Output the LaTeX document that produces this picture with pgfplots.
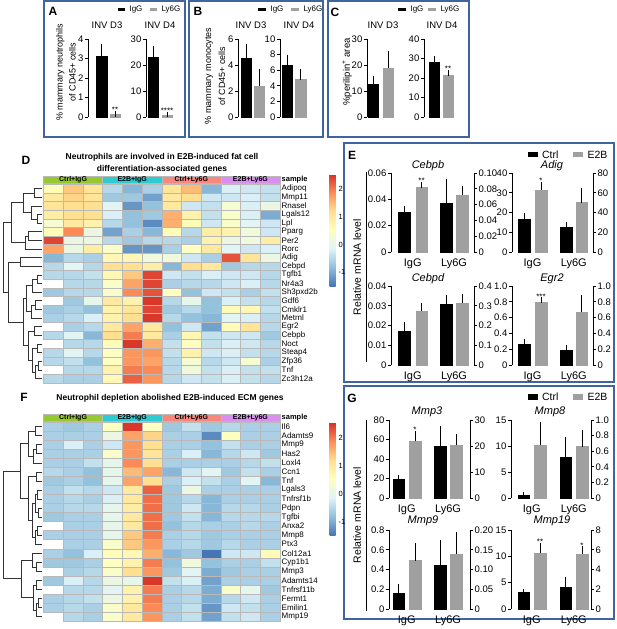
\documentclass[border=0pt]{standalone}
\usepackage{fontspec}
\setmainfont{Liberation Sans}
\usepackage{pgfplots}
\pgfplotsset{compat=1.18}

\definecolor{boxblue}{RGB}{64,100,160}
\definecolor{barg}{RGB}{160,160,160}
\definecolor{gctrl}{RGB}{150,200,50}
\definecolor{ge2b}{RGB}{45,203,210}
\definecolor{gcly}{RGB}{248,135,125}
\definecolor{gely}{RGB}{218,143,240}
\newcommand{\fs}[1]{\fontsize{#1}{#1}\selectfont}

% heatmap cells (one per row height)
\pgfdeclareplotmark{cellD}{\pgfpathrectangle{\pgfpoint{-9.854pt}{-4.314pt}}{\pgfpoint{19.708pt}{8.628pt}}\pgfusepathqfillstroke}
\pgfdeclareplotmark{cellF}{\pgfpathrectangle{\pgfpoint{-9.854pt}{-4.524pt}}{\pgfpoint{19.708pt}{9.048pt}}\pgfusepathqfillstroke}

\pgfplotsset{
  bb/.style={scale only axis, anchor=south west, clip=false,
    axis x line*=bottom, axis y line*=left,
    x axis line style={draw=none}, xtick style={draw=none},
    y axis line style={line width=0.7pt},
    ytick style={line width=0.7pt, black}, tick align=outside, major tick length=3pt,
    ymin=0, xtick=\empty, bar width=10.5, scaled y ticks=false,
    ticklabel style={font=\fs{9.5}}, yticklabel style={inner xsep=1.5pt},
    /pgf/number format/assume math mode=true},
  eg/.style={bb, bar width=11.5, yticklabel style={font=\fs{9.5}}, xticklabel style={font=\fs{11}}},
  hm/.style={scale only axis, anchor=north west, width=236.5pt, xmin=-0.5, xmax=11.5, y dir=reverse,
    axis line style={draw=none}, xtick=\empty, yticklabel pos=right, major tick length=0pt,
    yticklabel style={font=\fs{8}, anchor=west, inner xsep=1.5pt}, clip=false,
    colormap={rdylbu}{rgb255=(69,117,180) rgb255=(145,191,219) rgb255=(224,243,248)
      rgb255=(255,255,191) rgb255=(254,224,144) rgb255=(252,141,89) rgb255=(215,48,39)},
    point meta min=-1.5, point meta max=2.55,
    colorbar, colorbar style={at={(parent axis.north east)}, anchor=north west, xshift=41pt,
      width=6pt, scale only axis, y dir=normal, ytick={-1,0,1,2}, yticklabels={-1,0,1,2},
      axis line style={draw=none}, major tick length=0pt,
      yticklabel style={font=\fs{7.5}, anchor=west, inner xsep=3pt}}},
  hmcell/.style={scatter, only marks, point meta=explicit, line width=0.4pt,
    scatter/use mapped color={draw=gray!55, fill=mapped color}},
  dg/.style={scale only axis, anchor=north west, width=41pt, hide axis, y dir=reverse,
    x dir=reverse, clip=false, xmin=-0.1}
}
\tikzset{st/.style={font=\fs{8}, anchor=south, inner sep=1pt}}

% bar with upward error bar: colour, x, value, error
\newcommand{\eb}[4]{\addplot[ybar, bar shift=0pt, fill=#1, draw=#1,
  error bars/.cd, y dir=plus, y explicit,
  error bar style={line width=0.7pt, black},
  error mark options={line width=0.7pt, black, mark size=2.8pt}]
  coordinates {(#2,#3) +- (0,#4)};}
% dendrogram merge: child heights, merge height, child rows
\newcommand{\dm}[5]{\addplot[black!80, line width=0.5pt] coordinates {(#1,#4) (#3,#4) (#3,#5) (#2,#5)};}

\begin{document}
\begin{tikzpicture}
\useasboundingbox (0pt,0pt) rectangle (617pt,-629pt);

% ---------- boxes
\draw[boxblue, line width=1.2pt] (44pt,-1pt) rectangle (185pt,-137pt);
\draw[boxblue, line width=1.2pt] (189pt,-1pt) rectangle (323pt,-137pt);
\draw[boxblue, line width=1.2pt] (328pt,-1pt) rectangle (469pt,-137pt);
\draw[boxblue, line width=1.2pt] (344pt,-143pt) rectangle (614pt,-382pt);
\draw[boxblue, line width=1.2pt] (344pt,-386pt) rectangle (614pt,-619pt);

% ---------- A
\node[font=\bfseries\fs{12}] at (53pt,-11pt) {A};
\fill (118pt,-7.5pt) rectangle (125pt,-11pt);
\node[anchor=west, font=\fs{8}] at (126pt,-9.3pt) {IgG};
\fill[barg] (150pt,-7.5pt) rectangle (157pt,-11pt);
\node[anchor=west, font=\fs{8}] at (158pt,-9.3pt) {Ly6G};
\node[rotate=90, align=center, font=\fontsize{9}{13}\selectfont] at (66pt,-72pt) {\% mammary neutrophils\\of CD45+ cells};
\node[font=\fs{9.5}] at (107pt,-25pt) {INV D3};
\node[font=\fs{9.5}] at (160pt,-25pt) {INV D4};
\begin{axis}[bb, at={(88pt,-117pt)}, width=34pt, height=78pt, xmin=88, xmax=122,
  ymax=4, ytick={0,1,2,3,4}, yticklabels={0,1,2,3,4}]
\eb{black}{101.5}{3.1}{0.5}
\eb{barg}{115}{0.12}{0.03}
\node[st] at (axis cs:115,0.15) {**};
\end{axis}
\begin{axis}[bb, at={(146pt,-117pt)}, width=30pt, height=78pt, xmin=146, xmax=176,
  ymax=30, ytick={0,10,20,30}, yticklabels={0,10,20,30}]
\eb{black}{153}{22.9}{3.3}
\eb{barg}{167}{0.7}{0.2}
\node[st] at (axis cs:167,0.9) {****};
\end{axis}

% ---------- B
\node[font=\bfseries\fs{12}] at (198pt,-11pt) {B};
\fill (258pt,-7.5pt) rectangle (266pt,-11pt);
\node[anchor=west, font=\fs{8}] at (267pt,-9.3pt) {IgG};
\fill[barg] (291pt,-7.5pt) rectangle (299pt,-11pt);
\node[anchor=west, font=\fs{8}] at (300pt,-9.3pt) {Ly6G};
\node[rotate=90, align=center, font=\fontsize{9}{14}\selectfont] at (215pt,-76pt) {\% mammary monocytes\\of CD45+ cells};
\node[font=\fs{9.5}] at (251pt,-25pt) {INV D3};
\node[font=\fs{9.5}] at (299pt,-25pt) {INV D4};
\begin{axis}[bb, at={(238pt,-117pt)}, width=30pt, height=78pt, xmin=238, xmax=268,
  ymax=6, ytick={0,2,4,6}, yticklabels={0,2,4,6}]
\eb{black}{246}{4.54}{0.84}
\eb{barg}{259}{2.36}{1.14}
\end{axis}
\begin{axis}[bb, at={(280pt,-117pt)}, width=29pt, height=78pt, xmin=280, xmax=309,
  ymax=10, ytick={0,2,4,6,8,10}, yticklabels={0,2,4,6,8,10}]
\eb{black}{287}{6.62}{1.03}
\eb{barg}{300.5}{4.79}{1.06}
\end{axis}

% ---------- C
\node[font=\bfseries\fs{12}] at (335pt,-12pt) {C};
\fill (398pt,-7.5pt) rectangle (406pt,-11pt);
\node[anchor=west, font=\fs{8}] at (407pt,-9.3pt) {IgG};
\fill[barg] (428pt,-7.5pt) rectangle (436pt,-11pt);
\node[anchor=west, font=\fs{8}] at (437pt,-9.3pt) {Ly6G};
\node[rotate=90, font=\fs{9.5}] at (347pt,-72pt) {\%perilipin\textsuperscript{+} area};
\node[font=\fs{9.5}] at (383pt,-25pt) {INV D3};
\node[font=\fs{9.5}] at (442pt,-25pt) {INV D4};
\begin{axis}[bb, at={(367pt,-117pt)}, width=30pt, height=78pt, xmin=367, xmax=397,
  ymax=30, ytick={0,10,20,30}, yticklabels={0,10,20,30}]
\eb{black}{373}{12.8}{1.8}
\eb{barg}{388}{18.8}{5.7}
\end{axis}
\begin{axis}[bb, at={(424pt,-117pt)}, width=32pt, height=78pt, xmin=424, xmax=456,
  ymax=40, ytick={0,10,20,30,40}, yticklabels={0,10,20,30,40}]
\eb{black}{434}{28.2}{1.8}
\eb{barg}{448}{21.2}{1.7}
\node[st] at (axis cs:448,22.9) {**};
\end{axis}

% ---------- D heatmap
\node[font=\bfseries\fs{12}] at (26pt,-160pt) {D};
\node[font=\bfseries\fontsize{8.5}{12}\selectfont, align=center] at (162pt,-163pt)
  {Neutrophils are involved in E2B-induced fat cell\\differentiation-associated genes};
\begin{axis}[hm, at={(43.5pt,-176.5pt)}, height=206.2pt, ymin=-1.4, ymax=22.5,
  ytick={0,...,22},
  yticklabels={Adipoq,Mmp11,Rnasel,Lgals12,Lpl,Pparg,Per2,Rorc,Adig,Cebpd,Tgfb1,Nr4a3,Sh3pxd2b,Gdf6,Cmklr1,Metrnl,Egr2,Cebpb,Noct,Steap4,Zfp36,Tnf,Zc3h12a},
  colorbar style={yshift=2.5pt, height=112pt}]
\addplot[hmcell, mark=cellD]
  table[header=false, row sep=\\, x expr={mod(\coordindex,12)}, y expr={floor(\coordindex/12)}, meta index=0] {
0.6\\ 1.4\\ 1.1\\ -0.5\\ -0.9\\ -0.6\\ 1.1\\ 1.5\\ -0.9\\ -0.2\\ -0.3\\ -0.4\\
1.0\\ 1.3\\ 1.1\\ -0.7\\ -0.7\\ -1.1\\ 1.0\\ 1.2\\ -0.3\\ -0.3\\ -0.2\\ -0.4\\
1.1\\ 1.2\\ 1.2\\ -0.1\\ -1.2\\ -0.8\\ 1.0\\ -0.3\\ -0.4\\ 0.3\\ -0.2\\ 0.1\\
0.9\\ 1.2\\ 1.2\\ -0.2\\ -0.8\\ -0.7\\ 1.6\\ 0.8\\ -0.4\\ 0.4\\ -0.2\\ -1.0\\
0.3\\ 1.0\\ 0.8\\ -0.5\\ -0.8\\ -1.3\\ 1.6\\ 0.6\\ -0.3\\ 0.4\\ -0.1\\ -0.3\\
0.6\\ 1.9\\ 0.1\\ -1.1\\ -0.6\\ -0.9\\ 0.6\\ -0.5\\ 0.9\\ 0.8\\ 0.2\\ -0.3\\
2.4\\ 0.1\\ 0.1\\ -0.5\\ -0.7\\ -0.5\\ -0.5\\ -0.6\\ 0.8\\ 0.1\\ 0.2\\ 0.9\\
1.7\\ 0.1\\ 0.9\\ 0.4\\ -1.2\\ -1.2\\ -0.6\\ 0.5\\ 1.0\\ -0.1\\ -0.3\\ -0.2\\
-0.9\\ -0.5\\ -0.6\\ 0.7\\ 0.7\\ 0.2\\ 0.2\\ -0.3\\ -0.6\\ 2.3\\ 1.1\\ 0.1\\
-0.5\\ -0.1\\ -0.5\\ 1.2\\ 1.2\\ 0.9\\ -0.9\\ 1.2\\ 1.0\\ -0.7\\ -0.5\\ -0.5\\
-0.4\\ -0.5\\ -0.4\\ 0.7\\ 1.4\\ 2.4\\ -0.3\\ -0.4\\ -0.2\\ -0.3\\ -0.3\\ -0.5\\
-0.5\\ -0.5\\ -0.5\\ 0.4\\ 1.7\\ 2.4\\ -0.6\\ -0.5\\ -0.5\\ -0.3\\ -0.2\\ -0.5\\
-0.4\\ -0.5\\ -0.5\\ 0.4\\ 1.9\\ 2.3\\ 0.5\\ -0.8\\ -0.3\\ -0.4\\ -0.6\\ -0.4\\
-0.7\\ -0.7\\ 0.0\\ 1.0\\ 0.8\\ 2.5\\ -0.5\\ 0.0\\ -0.8\\ -0.2\\ -0.4\\ -0.5\\
-0.7\\ -0.6\\ -0.8\\ 0.8\\ 1.1\\ 2.4\\ -0.7\\ -0.5\\ -0.8\\ 0.6\\ 0.7\\ -0.4\\
-0.5\\ -0.5\\ -0.2\\ 0.8\\ 1.2\\ 2.5\\ -0.5\\ -0.8\\ -0.9\\ -0.1\\ -0.2\\ -0.5\\
-0.6\\ -0.6\\ -0.5\\ 1.0\\ 1.7\\ 1.0\\ -0.8\\ -0.3\\ -1.1\\ 0.6\\ 1.1\\ -0.5\\
-0.5\\ -0.1\\ -0.9\\ 1.2\\ 2.0\\ 1.0\\ -0.6\\ 0.7\\ -0.4\\ -0.3\\ -0.3\\ -0.7\\
-0.5\\ -0.5\\ -0.5\\ 0.6\\ 2.5\\ 1.6\\ -0.4\\ 0.5\\ -0.4\\ -0.2\\ -0.3\\ -0.5\\
-0.5\\ -0.1\\ -0.5\\ 0.5\\ 1.8\\ 1.8\\ -0.4\\ 0.8\\ -0.3\\ -0.2\\ -0.4\\ -0.5\\
-0.5\\ -0.4\\ -0.8\\ 0.5\\ 1.8\\ 1.7\\ -0.5\\ 0.3\\ -0.5\\ -0.3\\ 0.3\\ -0.6\\
-0.5\\ -0.5\\ -0.5\\ 0.8\\ 2.0\\ 1.9\\ -0.5\\ 0.2\\ -0.4\\ -0.2\\ -0.4\\ -0.4\\
-0.5\\ -0.6\\ -0.6\\ 0.7\\ 2.2\\ 1.8\\ -0.5\\ -0.3\\ -0.4\\ -0.2\\ -0.4\\ -0.5\\
};
\filldraw[fill=gctrl, draw=gray!55, line width=0.4pt] (axis cs:-0.5,-1.4) rectangle (axis cs:2.5,-0.6);
\filldraw[fill=ge2b, draw=gray!55, line width=0.4pt] (axis cs:2.5,-1.4) rectangle (axis cs:5.5,-0.6);
\filldraw[fill=gcly, draw=gray!55, line width=0.4pt] (axis cs:5.5,-1.4) rectangle (axis cs:8.5,-0.6);
\filldraw[fill=gely, draw=gray!55, line width=0.4pt] (axis cs:8.5,-1.4) rectangle (axis cs:11.5,-0.6);
\node[font=\bfseries\fs{7}] at (axis cs:1,-1.0) {Ctrl+IgG};
\node[font=\bfseries\fs{7}] at (axis cs:4,-1.0) {E2B+IgG};
\node[font=\bfseries\fs{7}] at (axis cs:7,-1.0) {Ctrl+Ly6G};
\node[font=\bfseries\fs{7}] at (axis cs:10,-1.0) {E2B+Ly6G};
\node[font=\bfseries\fs{7.5}, anchor=west, inner xsep=1.5pt] at (axis cs:11.5,-1.0) {sample};
\end{axis}
\begin{axis}[dg, at={(2pt,-176.5pt)}, height=206.2pt, ymin=-1.4, ymax=22.5, xmax=7.2]
\dm{0}{0}{1.5}{0}{1}
\dm{0}{0}{1.0}{3}{4}
\dm{0}{1.0}{2.0}{2}{3.5}
\dm{1.5}{2.0}{3.5}{0.5}{2.75}
\dm{0}{0}{2.5}{5}{6}
\dm{2.5}{0}{3.0}{5.5}{7}
\dm{3.5}{3.0}{5.5}{1.625}{6.25}
\dm{0}{0}{4.0}{8}{9}
\dm{0}{0}{1.0}{10}{11}
\dm{1.0}{0}{1.8}{10.5}{12}
\dm{0}{0}{1.2}{13}{14}
\dm{1.2}{0}{2.0}{13.5}{15}
\dm{1.8}{2.0}{2.8}{11.25}{14.25}
\dm{0}{0}{1.5}{16}{17}
\dm{0}{0}{1.0}{18}{19}
\dm{0}{0}{0.8}{20}{21}
\dm{0.8}{0}{1.2}{20.5}{22}
\dm{1.0}{1.2}{1.8}{18.5}{21.25}
\dm{1.5}{1.8}{2.5}{16.5}{19.875}
\dm{2.8}{2.5}{3.5}{12.75}{18.1875}
\dm{4.0}{3.5}{6.0}{8.5}{15.46875}
\dm{5.5}{6.0}{7.0}{3.9375}{11.984}
\end{axis}

% ---------- F heatmap
\node[font=\bfseries\fs{12}] at (24pt,-397pt) {F};
\node[font=\bfseries\fs{8.5}] at (170pt,-398pt) {Neutrophil depletion abolished E2B-induced ECM genes};
\begin{axis}[hm, at={(43.5pt,-413.9pt)}, height=207.2pt, ymin=-1.4, ymax=21.5,
  ytick={0,...,21},
  yticklabels={Il6,Adamts9,Mmp9,Has2,Loxl4,Ccn1,Tnf,Lgals3,Tnfrsf1b,Pdpn,Tgfbi,Anxa2,Mmp8,Ptx3,Col12a1,Cyp1b1,Mmp3,Adamts14,Tnfrsf11b,Fermt1,Emilin1,Mmp19},
  colorbar style={yshift=-8.7pt, height=113pt}]
\addplot[hmcell, mark=cellF]
  table[header=false, row sep=\\, x expr={mod(\coordindex,12)}, y expr={floor(\coordindex/12)}, meta index=0] {
-0.6\\ -0.7\\ -0.6\\ 0.5\\ 2.5\\ 0.5\\ -0.7\\ -0.4\\ -0.7\\ -0.5\\ -0.6\\ -0.6\\
-0.6\\ -0.6\\ -0.6\\ 0.1\\ 1.7\\ 1.3\\ -0.6\\ -0.6\\ -1.3\\ 0.5\\ -0.6\\ -0.6\\
-0.6\\ -0.2\\ -0.6\\ -0.3\\ 1.8\\ 1.2\\ -0.6\\ -0.6\\ -0.8\\ -0.4\\ -0.6\\ -0.6\\
-0.6\\ -0.6\\ -0.6\\ 0.4\\ 1.8\\ 1.1\\ -0.6\\ -0.2\\ -0.9\\ -0.5\\ -0.3\\ -0.7\\
-0.6\\ -0.6\\ -0.4\\ 0.0\\ 1.9\\ 1.2\\ -0.6\\ -0.6\\ -0.6\\ -0.6\\ -0.5\\ -0.4\\
-0.5\\ -0.6\\ -0.8\\ 0.0\\ 1.5\\ 1.7\\ -0.9\\ -0.3\\ -0.1\\ -0.7\\ -0.4\\ -0.6\\
-0.7\\ -0.6\\ -0.8\\ 0.0\\ 1.7\\ 1.2\\ -0.6\\ -0.2\\ -0.4\\ -0.6\\ -0.1\\ -0.9\\
-0.6\\ -0.4\\ -0.5\\ -0.3\\ 1.0\\ 2.2\\ -0.7\\ 0.1\\ -0.6\\ -0.6\\ -0.6\\ -0.6\\
-0.6\\ -0.5\\ -0.6\\ -0.2\\ 1.0\\ 2.1\\ -0.7\\ -0.5\\ -0.9\\ -0.6\\ -0.6\\ -0.6\\
-0.6\\ -0.5\\ -0.5\\ 0.0\\ 0.9\\ 2.1\\ -0.7\\ -0.3\\ -0.9\\ -0.5\\ -0.5\\ -0.6\\
-0.6\\ -0.6\\ -0.6\\ 0.0\\ 1.0\\ 2.1\\ -0.7\\ -0.4\\ -0.9\\ -0.5\\ -0.5\\ -0.5\\
-0.7\\ -0.6\\ -0.6\\ 0.0\\ 1.0\\ 2.1\\ -0.8\\ -0.5\\ -0.6\\ -0.6\\ -0.5\\ -0.6\\
-0.6\\ -0.6\\ -0.6\\ 0.0\\ 1.4\\ 2.0\\ -0.6\\ -0.5\\ -0.7\\ -0.6\\ -0.6\\ -0.6\\
-0.6\\ -0.6\\ -0.6\\ 0.4\\ 1.4\\ 1.8\\ -0.6\\ -0.5\\ -0.7\\ -0.5\\ -0.6\\ -0.6\\
-0.6\\ -0.8\\ -0.2\\ 0.6\\ 0.7\\ 1.6\\ -0.9\\ -0.7\\ -1.5\\ -0.3\\ -0.3\\ 0.6\\
-0.7\\ -0.7\\ -0.6\\ 0.5\\ 0.8\\ 2.0\\ -0.8\\ 0.2\\ -0.8\\ -0.6\\ -0.6\\ -0.4\\
-0.7\\ -0.6\\ -0.5\\ 0.4\\ 1.2\\ 1.8\\ -0.7\\ -0.1\\ -1.0\\ -0.7\\ -0.6\\ -0.6\\
-0.9\\ -0.2\\ -0.5\\ 0.1\\ 0.0\\ 2.5\\ -0.4\\ -0.2\\ -1.1\\ -0.6\\ -0.6\\ -0.6\\
-0.7\\ -0.5\\ -0.5\\ -0.1\\ 0.8\\ 2.0\\ -0.6\\ -0.5\\ -1.0\\ 0.4\\ 0.0\\ -0.7\\
-0.6\\ -0.5\\ -0.4\\ 0.1\\ 0.8\\ 2.0\\ -0.6\\ -0.5\\ -1.0\\ -0.5\\ -0.3\\ -0.6\\
-0.6\\ -0.5\\ -0.6\\ 0.4\\ 1.0\\ 1.9\\ -0.6\\ -0.4\\ -1.2\\ -0.3\\ -0.4\\ -0.6\\
-0.6\\ -0.5\\ -0.6\\ 0.4\\ 1.0\\ 1.8\\ -0.6\\ -0.4\\ -1.1\\ -0.4\\ -0.3\\ -0.6\\
};
\filldraw[fill=gctrl, draw=gray!55, line width=0.4pt] (axis cs:-0.5,-1.4) rectangle (axis cs:2.5,-0.6);
\filldraw[fill=ge2b, draw=gray!55, line width=0.4pt] (axis cs:2.5,-1.4) rectangle (axis cs:5.5,-0.6);
\filldraw[fill=gcly, draw=gray!55, line width=0.4pt] (axis cs:5.5,-1.4) rectangle (axis cs:8.5,-0.6);
\filldraw[fill=gely, draw=gray!55, line width=0.4pt] (axis cs:8.5,-1.4) rectangle (axis cs:11.5,-0.6);
\node[font=\bfseries\fs{7}] at (axis cs:1,-1.0) {Ctrl+IgG};
\node[font=\bfseries\fs{7}] at (axis cs:4,-1.0) {E2B+IgG};
\node[font=\bfseries\fs{7}] at (axis cs:7,-1.0) {Ctrl+Ly6G};
\node[font=\bfseries\fs{7}] at (axis cs:10,-1.0) {E2B+Ly6G};
\node[font=\bfseries\fs{7.5}, anchor=west, inner xsep=1.5pt] at (axis cs:11.5,-1.0) {sample};
\end{axis}
\begin{axis}[dg, at={(2pt,-413.9pt)}, height=207.2pt, ymin=-1.4, ymax=21.5, xmax=6.4]
\dm{0}{0}{1.2}{0}{1}
\dm{0}{0}{1.0}{2}{3}
\dm{1.0}{0}{1.4}{2.5}{4}
\dm{1.2}{1.4}{2.2}{0.5}{3.25}
\dm{0}{0}{1.0}{5}{6}
\dm{0}{0}{0.8}{7}{8}
\dm{0}{0}{0.6}{9}{10}
\dm{0.8}{0.6}{1.2}{7.5}{9.5}
\dm{0}{0}{0.8}{11}{12}
\dm{0.8}{0}{1.1}{11.5}{13}
\dm{1.2}{1.1}{1.6}{8.5}{12.25}
\dm{1.0}{1.6}{2.2}{5.5}{10.375}
\dm{2.2}{2.2}{3.5}{1.875}{7.9375}
\dm{0}{0}{1.0}{15}{16}
\dm{0}{1.0}{1.6}{14}{15.5}
\dm{0}{0}{1.0}{17}{18}
\dm{0}{0}{0.6}{19}{20}
\dm{0.6}{0}{0.9}{19.5}{21}
\dm{1.0}{0.9}{1.4}{17.5}{20.25}
\dm{1.6}{1.4}{3.3}{14.75}{18.875}
\dm{3.5}{3.3}{6.2}{4.906}{16.8125}
\end{axis}

% ---------- E
\node[font=\bfseries\fs{12}] at (352pt,-155pt) {E};
\fill (528pt,-151.5pt) rectangle (538pt,-157pt);
\node[anchor=west, font=\fs{10.5}] at (538.5pt,-154.5pt) {Ctrl};
\fill[barg] (573pt,-151.5pt) rectangle (583pt,-157pt);
\node[anchor=west, font=\fs{10.5}] at (584pt,-154.5pt) {E2B};
\node[rotate=90, font=\fs{10.5}] at (357pt,-267pt) {Relative mRNA level};
\draw[line width=0.7pt] (366.5pt,-172pt) -- (366.5pt,-362pt);
\node[font=\itshape\fs{11}] at (428pt,-166pt) {Cebpb};
\node[font=\itshape\fs{11}] at (552pt,-166pt) {Adig};
\node[font=\itshape\fs{11}] at (428pt,-279pt) {Cebpd};
\node[font=\itshape\fs{11}] at (552pt,-279pt) {Egr2};

\begin{axis}[eg, at={(391pt,-252pt)}, width=83pt, height=79pt, xmin=391, xmax=474,
  ymax=0.06, ytick={0,0.02,0.04,0.06}, yticklabels={0,0.02,0.04,0.06},
  xtick={412.75,454}, xticklabels={IgG,Ly6G}]
\eb{black}{404}{0.030}{0.0025}
\eb{barg}{421.5}{0.049}{0.002}
\node[st] at (axis cs:421.5,0.051) {**};
\end{axis}
\begin{axis}[eg, axis y line*=right, at={(391pt,-252pt)}, width=83pt, height=79pt, xmin=391, xmax=474,
  ymax=0.10, ytick={0,0.02,0.04,0.06,0.08,0.10}, yticklabels={0,0.02,0.04,0.06,0.08,0.10}]
\eb{black}{446}{0.062}{0.027}
\eb{barg}{462}{0.072}{0.008}
\end{axis}

\begin{axis}[eg, at={(512pt,-252pt)}, width=81pt, height=79pt, xmin=512, xmax=593,
  ymax=40, ytick={0,10,20,30,40}, yticklabels={0,10,20,30,40},
  xtick={532.5,573.75}, xticklabels={IgG,Ly6G}]
\eb{black}{524}{16.5}{1.8}
\eb{barg}{541}{31.5}{2.5}
\node[st] at (axis cs:541,34) {*};
\end{axis}
\begin{axis}[eg, axis y line*=right, at={(512pt,-252pt)}, width=81pt, height=79pt, xmin=512, xmax=593,
  ymax=80, ytick={0,20,40,60,80}, yticklabels={0,20,40,60,80}]
\eb{black}{566}{25}{3}
\eb{barg}{581.5}{50}{12}
\end{axis}

\begin{axis}[eg, at={(391pt,-365pt)}, width=83pt, height=79pt, xmin=391, xmax=474,
  ymax=0.04, ytick={0,0.01,0.02,0.03,0.04}, yticklabels={0,0.01,0.02,0.03,0.04},
  xtick={412.75,454}, xticklabels={IgG,Ly6G}]
\eb{black}{404}{0.0172}{0.0033}
\eb{barg}{421.5}{0.0274}{0.0026}
\end{axis}
\begin{axis}[eg, axis y line*=right, at={(391pt,-365pt)}, width=83pt, height=79pt, xmin=391, xmax=474,
  ymax=0.4, ytick={0,0.1,0.2,0.3,0.4}, yticklabels={0,0.1,0.2,0.3,0.4}]
\eb{black}{446}{0.308}{0.032}
\eb{barg}{462}{0.313}{0.032}
\end{axis}

\begin{axis}[eg, at={(512pt,-365pt)}, width=81pt, height=79pt, xmin=512, xmax=593,
  ymax=1, ytick={0,0.2,0.4,0.6,0.8,1}, yticklabels={0,0.2,0.4,0.6,0.8,1.0},
  xtick={532.5,573.75}, xticklabels={IgG,Ly6G}]
\eb{black}{524}{0.267}{0.029}
\eb{barg}{541}{0.80}{0.02}
\node[st] at (axis cs:541,0.82) {***};
\end{axis}
\begin{axis}[eg, axis y line*=right, at={(512pt,-365pt)}, width=81pt, height=79pt, xmin=512, xmax=593,
  ymax=1, ytick={0,0.2,0.4,0.6,0.8,1}, yticklabels={0,0.2,0.4,0.6,0.8,1.0}]
\eb{black}{566}{0.185}{0.035}
\eb{barg}{581.5}{0.665}{0.18}
\end{axis}

% ---------- G
\node[font=\bfseries\fs{12}] at (352pt,-398pt) {G};
\fill (528pt,-394pt) rectangle (538pt,-399.5pt);
\node[anchor=west, font=\fs{10.5}] at (538.5pt,-397pt) {Ctrl};
\fill[barg] (573pt,-394pt) rectangle (583pt,-399.5pt);
\node[anchor=west, font=\fs{10.5}] at (584pt,-397pt) {E2B};
\node[rotate=90, font=\fs{10.5}] at (357pt,-515pt) {Relative mRNA level};
\draw[line width=0.7pt] (366.5pt,-420pt) -- (366.5pt,-611pt);
\node[font=\itshape\fs{11}] at (427pt,-412pt) {Mmp3};
\node[font=\itshape\fs{11}] at (550pt,-412pt) {Mmp8};
\node[font=\itshape\fs{11}] at (423pt,-521pt) {Mmp9};
\node[font=\itshape\fs{11}] at (552pt,-521pt) {Mmp19};

\begin{axis}[eg, at={(389pt,-498pt)}, width=81pt, height=78pt, xmin=389, xmax=470,
  ymax=80, ytick={0,20,40,60,80}, yticklabels={0,20,40,60,80},
  xtick={406.75,448}, xticklabels={IgG,Ly6G}]
\eb{black}{398.5}{19}{2}
\eb{barg}{415}{58}{8}
\node[st] at (axis cs:415,66) {*};
\end{axis}
\begin{axis}[eg, axis y line*=right, at={(389pt,-498pt)}, width=81pt, height=78pt, xmin=389, xmax=470,
  ymax=30, ytick={0,10,20,30}, yticklabels={0,10,20,30}]
\eb{black}{440}{20}{6.5}
\eb{barg}{456}{20.5}{3}
\end{axis}

\begin{axis}[eg, at={(511pt,-498pt)}, width=80pt, height=78pt, xmin=511, xmax=591,
  ymax=15, ytick={0,5,10,15}, yticklabels={0,5,10,15},
  xtick={531.75,573.75}, xticklabels={IgG,Ly6G}]
\eb{black}{523.5}{0.5}{0.05}
\eb{barg}{540}{10.1}{3.9}
\end{axis}
\begin{axis}[eg, axis y line*=right, at={(511pt,-498pt)}, width=80pt, height=78pt, xmin=511, xmax=591,
  ymax=1, ytick={0,0.2,0.4,0.6,0.8,1}, yticklabels={0,0.2,0.4,0.6,0.8,1.0}]
\eb{black}{565.5}{0.52}{0.23}
\eb{barg}{582}{0.66}{0.17}
\end{axis}

\begin{axis}[eg, at={(389pt,-609pt)}, width=81pt, height=79pt, xmin=389, xmax=470,
  ymax=0.8, ytick={0,0.2,0.4,0.6,0.8}, yticklabels={0,0.2,0.4,0.6,0.8},
  xtick={406.75,448}, xticklabels={IgG,Ly6G}]
\eb{black}{398.5}{0.16}{0.06}
\eb{barg}{415}{0.49}{0.15}
\end{axis}
\begin{axis}[eg, axis y line*=right, at={(389pt,-609pt)}, width=81pt, height=79pt, xmin=389, xmax=470,
  ymax=0.2, ytick={0,0.05,0.1,0.15,0.2}, yticklabels={0,0.05,0.10,0.15,0.20}]
\eb{black}{440}{0.11}{0.058}
\eb{barg}{456}{0.14}{0.048}
\end{axis}

\begin{axis}[eg, at={(511pt,-609pt)}, width=80pt, height=79pt, xmin=511, xmax=591,
  ymax=15, ytick={0,5,10,15}, yticklabels={0,5,10,15},
  xtick={531.75,573.75}, xticklabels={IgG,Ly6G}]
\eb{black}{523.5}{3.1}{0.15}
\eb{barg}{540}{10.6}{1.4}
\node[st] at (axis cs:540,12.0) {**};
\end{axis}
\begin{axis}[eg, axis y line*=right, at={(511pt,-609pt)}, width=80pt, height=79pt, xmin=511, xmax=591,
  ymax=8, ytick={0,2,4,6,8}, yticklabels={0,2,4,6,8}]
\eb{black}{565.5}{2.2}{0.75}
\eb{barg}{582}{5.6}{0.45}
\node[st] at (axis cs:582,6.05) {*};
\end{axis}

\end{tikzpicture}
\end{document}
